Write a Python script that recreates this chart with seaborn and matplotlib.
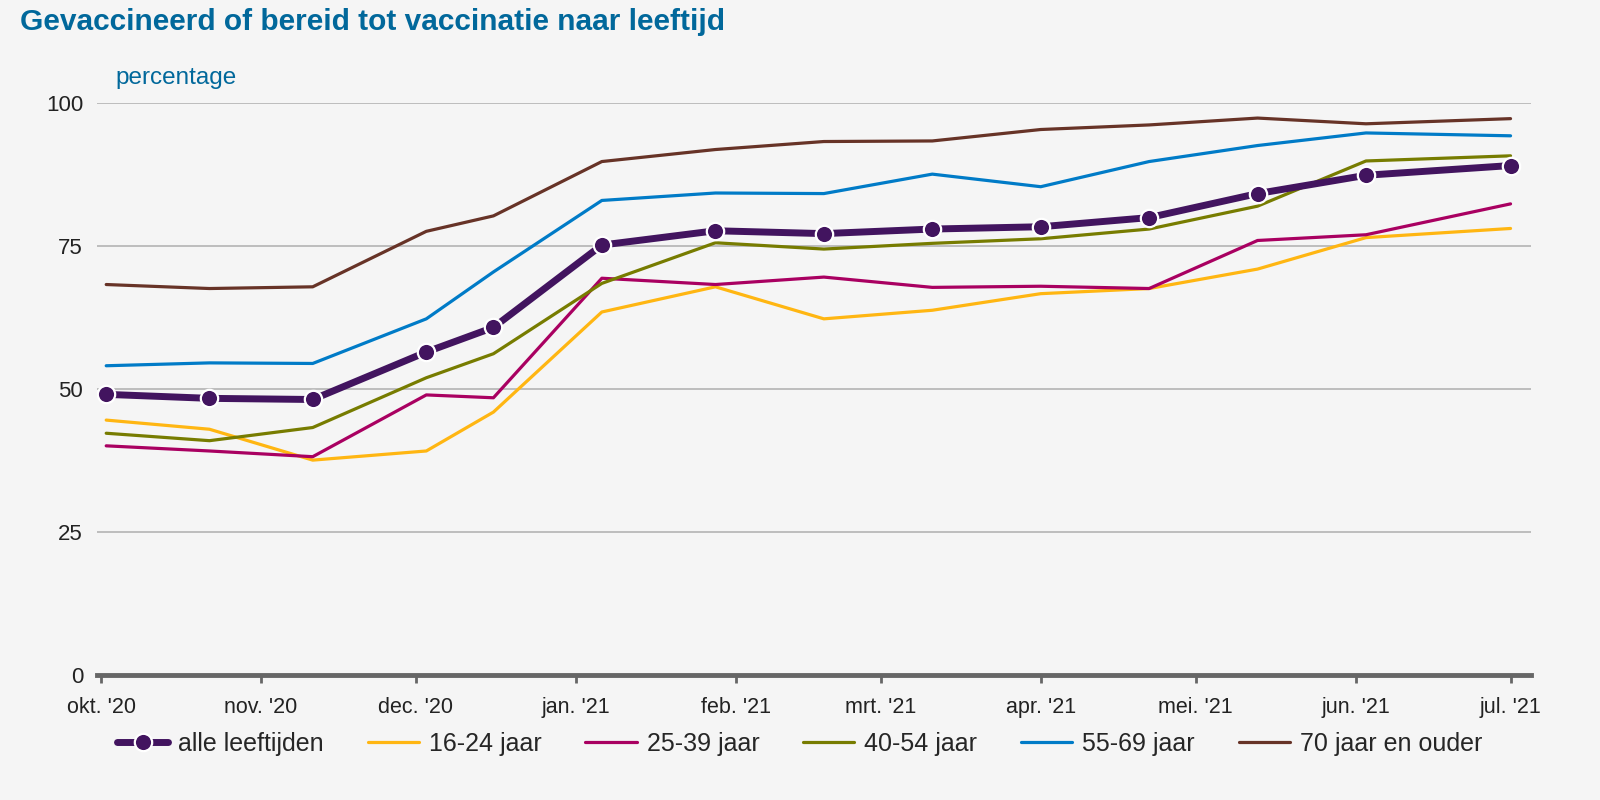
import pandas as pd
import matplotlib.pyplot as plt
import seaborn as sns

# Stijl
sns.set_theme(style="white")
plt.rcParams['font.family'] = ['Liberation Sans', 'DejaVu Sans']

# Meetmomenten en percentages
datums = ['2020-10-02', '2020-10-22', '2020-11-11', '2020-12-03', '2020-12-16',
          '2021-01-06', '2021-01-28', '2021-02-18', '2021-03-11', '2021-04-01',
          '2021-04-22', '2021-05-13', '2021-06-03', '2021-07-01']
alle_leeftijden = [49.1, 48.4, 48.2, 56.5, 60.8, 75.2, 77.7, 77.2, 78.0, 78.4, 80.0, 84.2, 87.4, 89.1]
jaar_16_24 = [44.6, 43.0, 37.6, 39.2, 46.0, 63.5, 67.9, 62.3, 63.8, 66.7, 67.6, 71.0, 76.5, 78.1]
jaar_25_39 = [40.1, 39.2, 38.2, 49.0, 48.5, 69.4, 68.3, 69.6, 67.8, 68.0, 67.6, 76.0, 77.0, 82.4]
jaar_40_54 = [42.3, 41.0, 43.3, 52.0, 56.2, 68.5, 75.6, 74.5, 75.5, 76.3, 78.0, 82.0, 89.9, 90.8]
jaar_55_69 = [54.1, 54.6, 54.5, 62.3, 70.5, 83.0, 84.3, 84.2, 87.6, 85.4, 89.8, 92.6, 94.8, 94.3]
jaar_70_plus = [68.3, 67.6, 67.9, 77.6, 80.3, 89.8, 91.9, 93.3, 93.4, 95.4, 96.2, 97.4, 96.4, 97.3]

groepen = ['16-24 jaar', '25-39 jaar', '40-54 jaar', '55-69 jaar', '70 jaar en ouder']
kleuren = ['#ffb612', '#a90061', '#777c00', '#007bc7', '#673327']

maand_ticks = ['2020-10-01', '2020-11-01', '2020-12-01', '2021-01-01', '2021-02-01',
               '2021-03-01', '2021-04-01', '2021-05-01', '2021-06-01', '2021-07-01']
maand_labels = ["okt. '20", "nov. '20", "dec. '20", "jan. '21", "feb. '21",
                "mrt. '21", "apr. '21", "mei. '21", "jun. '21", "jul. '21"]

df = pd.DataFrame({'datum': pd.to_datetime(datums), 'alle leeftijden': alle_leeftijden,
                   '16-24 jaar': jaar_16_24, '25-39 jaar': jaar_25_39, '40-54 jaar': jaar_40_54,
                   '55-69 jaar': jaar_55_69, '70 jaar en ouder': jaar_70_plus})

achtergrond = '#f5f5f5'
blauw = '#01689b'

fig = plt.figure(figsize=(16, 8), dpi=100, facecolor=achtergrond)
ax = fig.add_axes([0.0606, 0.156, 0.8964, 0.715])
ax.set_facecolor(achtergrond)

# alle leeftijden eerst in de legenda, maar bovenop getekend
sns.lineplot(x='datum', y='alle leeftijden', data=df, ax=ax, color='#42145f', linewidth=5,
             marker='o', markersize=12.5, markeredgecolor='white', markeredgewidth=1.6,
             label='alle leeftijden', zorder=5)
for groep, kleur in zip(groepen, kleuren):
    sns.lineplot(x='datum', y=groep, data=df, ax=ax, color=kleur, linewidth=2.3,
                 label=groep, zorder=3)

ax.set_ylim(0, 100)
ax.set_xlim(pd.Timestamp('2020-09-30 05:00'), pd.Timestamp('2021-07-05'))
ax.set_yticks([0, 25, 50, 75, 100])
ax.set_xticks(pd.to_datetime(maand_ticks))
ax.set_xticklabels(maand_labels)
ax.yaxis.grid(True, color='#b4b4b4', linewidth=1.2)
ax.set_axisbelow(True)
for kant in ['top', 'right', 'left']:
    ax.spines[kant].set_visible(False)
ax.spines['bottom'].set_color('#666666')
ax.spines['bottom'].set_linewidth(3.5)
ax.tick_params(axis='x', colors='#666666', length=6, width=2, pad=10,
               labelsize=15.5, labelcolor='#222222', bottom=True)
ax.tick_params(axis='y', length=0, pad=10, labelsize=16, labelcolor='#222222')
ax.set_xlabel('')
ax.set_ylabel('')

fig.text(0.0128, 0.972, 'Gevaccineerd of bereid tot vaccinatie naar leeftijd',
         fontsize=21.5, fontweight='bold', color=blauw, va='center', ha='left')
fig.text(0.072, 0.903, 'percentage', fontsize=17.5, color=blauw, va='center', ha='left')

ax.legend(loc='center', bbox_to_anchor=(0.49, -0.12), ncol=6, frameon=False,
          fontsize=18, handlelength=2.05, columnspacing=1.75, handletextpad=0.4)

plt.savefig('out.png', dpi=100, facecolor=achtergrond)
